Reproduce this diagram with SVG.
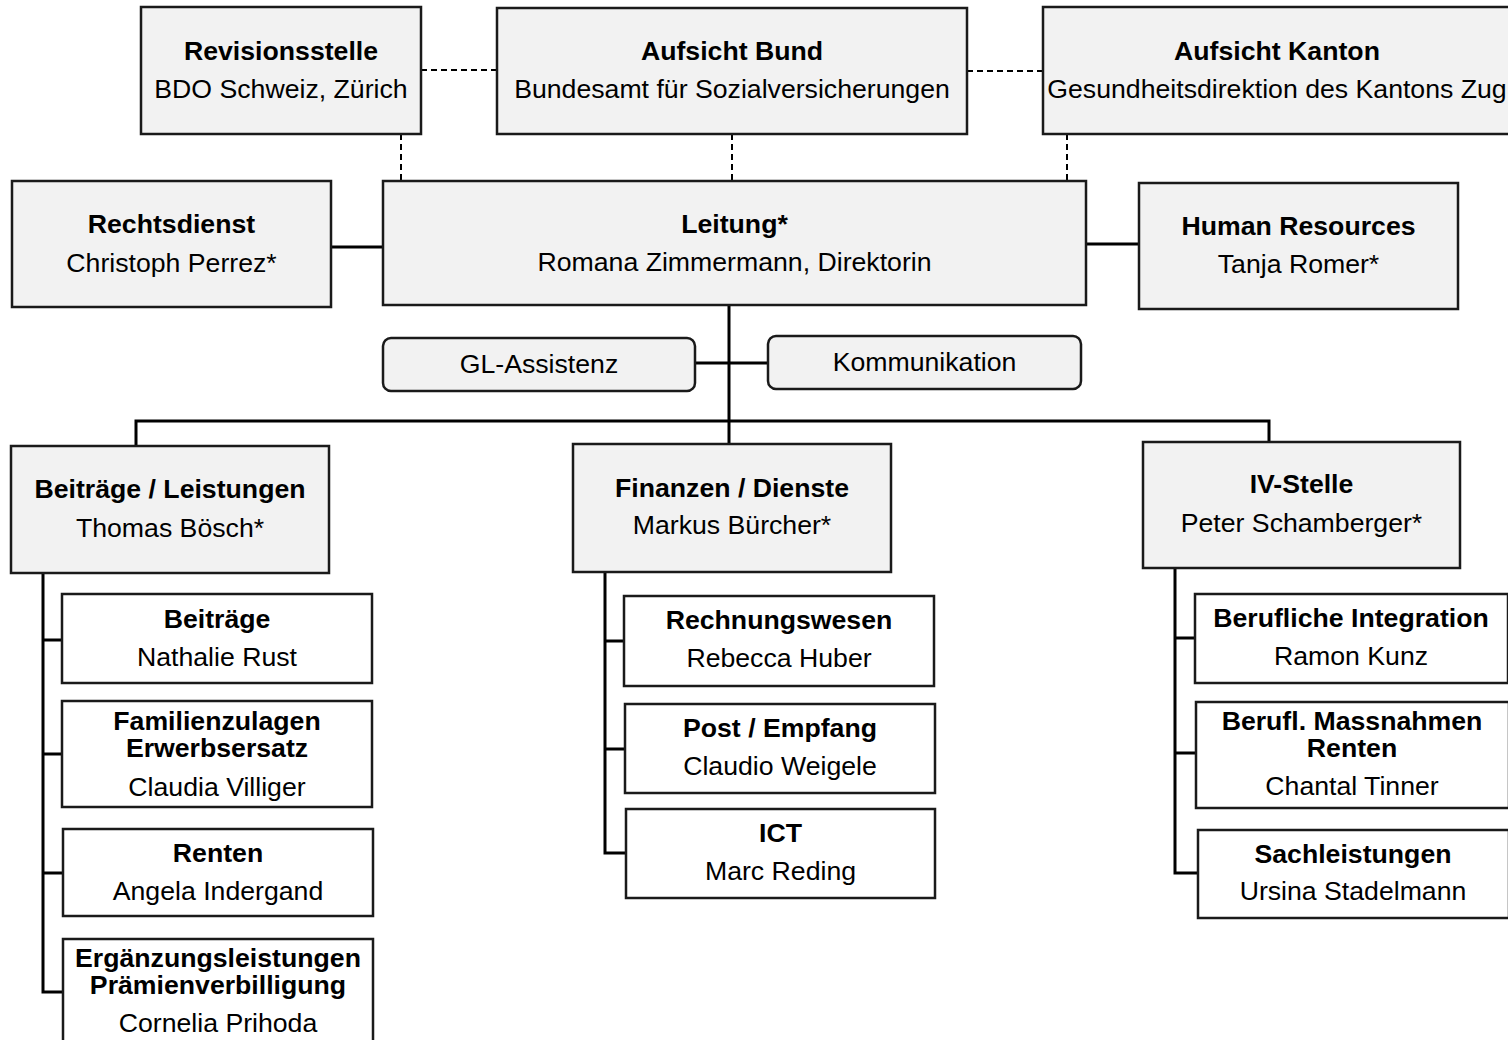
<svg xmlns="http://www.w3.org/2000/svg" width="1508" height="1040" viewBox="0 0 1508 1040">
<style>
.box{fill:#f2f2f2;stroke:#1a1a1a;stroke-width:2.5}
.sub{fill:#ffffff;stroke:#1a1a1a;stroke-width:2.5}
.t{font-family:"Liberation Sans",Arial,sans-serif;font-size:26.67px;text-anchor:middle;fill:#000}
.b{font-weight:bold}
.ln{stroke:#000;stroke-width:3;fill:none}
.dash{stroke:#000;stroke-width:2;stroke-dasharray:6 4;fill:none}
</style>
<rect width="1508" height="1040" fill="#fff"/>
<g id="connectors">
<path class="dash" d="M421,70 H497 M967,71 H1043 M401,134 V181 M732,134 V181 M1067,134 V181"/>
<path class="ln" d="M331,247 H383 M1086,244 H1139 M729,305 V446 M695,363 H768 M136,446 V421 H1269 V442"/>
<path class="ln" d="M43,573 V992 H63 M43,640 H62 M43,754 H62 M43,873 H63"/>
<path class="ln" d="M605,572 V853 H626 M605,641 H624 M605,749 H625"/>
<path class="ln" d="M1175,568 V873 H1198 M1175,638 H1195 M1175,753 H1196"/>
</g>
<g id="revisionsstelle"><rect class="box" x="141" y="7" width="280" height="127"/><text class="t b" x="281" y="60">Revisionsstelle</text><text class="t" x="281" y="98">BDO Schweiz, Zürich</text></g>
<g id="aufsicht-bund"><rect class="box" x="497" y="8" width="470" height="126"/><text class="t b" x="732" y="60">Aufsicht Bund</text><text class="t" x="732" y="98">Bundesamt für Sozialversicherungen</text></g>
<g id="aufsicht-kanton"><rect class="box" x="1043" y="7" width="468" height="127"/><text class="t b" x="1277" y="60">Aufsicht Kanton</text><text class="t" x="1277" y="98">Gesundheitsdirektion des Kantons Zug</text></g>
<g id="rechtsdienst"><rect class="box" x="12" y="181" width="319" height="126"/><text class="t b" x="171.5" y="233">Rechtsdienst</text><text class="t" x="171.5" y="272">Christoph Perrez*</text></g>
<g id="leitung"><rect class="box" x="383" y="181" width="703" height="124"/><text class="t b" x="734.5" y="233">Leitung*</text><text class="t" x="734.5" y="271">Romana Zimmermann, Direktorin</text></g>
<g id="human-resources"><rect class="box" x="1139" y="183" width="319" height="126"/><text class="t b" x="1298.5" y="235">Human Resources</text><text class="t" x="1298.5" y="273">Tanja Romer*</text></g>
<g id="gl-assistenz"><rect class="box" x="383" y="338" width="312" height="53" rx="8"/><text class="t" x="539" y="373">GL-Assistenz</text></g>
<g id="kommunikation"><rect class="box" x="768" y="336" width="313" height="53" rx="8"/><text class="t" x="924.5" y="371">Kommunikation</text></g>
<g id="beitraege-leistungen"><rect class="box" x="11" y="446" width="318" height="127"/><text class="t b" x="170" y="498">Beiträge / Leistungen</text><text class="t" x="170" y="537">Thomas Bösch*</text></g>
<g id="finanzen-dienste"><rect class="box" x="573" y="444" width="318" height="128"/><text class="t b" x="732" y="497">Finanzen / Dienste</text><text class="t" x="732" y="534">Markus Bürcher*</text></g>
<g id="iv-stelle"><rect class="box" x="1143" y="442" width="317" height="126"/><text class="t b" x="1301.5" y="493">IV-Stelle</text><text class="t" x="1301.5" y="532">Peter Schamberger*</text></g>
<g id="beitraege"><rect class="sub" x="62" y="594" width="310" height="89"/><text class="t b" x="217" y="628">Beiträge</text><text class="t" x="217" y="666">Nathalie Rust</text></g>
<g id="familienzulagen"><rect class="sub" x="62" y="701" width="310" height="106"/><text class="t b" x="217" y="730">Familienzulagen</text><text class="t b" x="217" y="757">Erwerbsersatz</text><text class="t" x="217" y="796">Claudia Villiger</text></g>
<g id="renten"><rect class="sub" x="63" y="829" width="310" height="87"/><text class="t b" x="218" y="862">Renten</text><text class="t" x="218" y="900">Angela Indergand</text></g>
<g id="ergaenzungsleistungen"><rect class="sub" x="63" y="939" width="310" height="112"/><text class="t b" x="218" y="967">Ergänzungsleistungen</text><text class="t b" x="218" y="994">Prämienverbilligung</text><text class="t" x="218" y="1032">Cornelia Prihoda</text></g>
<g id="rechnungswesen"><rect class="sub" x="624" y="596" width="310" height="90"/><text class="t b" x="779" y="629">Rechnungswesen</text><text class="t" x="779" y="667">Rebecca Huber</text></g>
<g id="post-empfang"><rect class="sub" x="625" y="704" width="310" height="89"/><text class="t b" x="780" y="737">Post / Empfang</text><text class="t" x="780" y="775">Claudio Weigele</text></g>
<g id="ict"><rect class="sub" x="626" y="809" width="309" height="89"/><text class="t b" x="780.5" y="842">ICT</text><text class="t" x="780.5" y="880">Marc Reding</text></g>
<g id="berufliche-integration"><rect class="sub" x="1195" y="594" width="313" height="89"/><text class="t b" x="1351" y="627">Berufliche Integration</text><text class="t" x="1351" y="665">Ramon Kunz</text></g>
<g id="berufl-massnahmen"><rect class="sub" x="1196" y="702" width="313" height="106"/><text class="t b" x="1352" y="730">Berufl. Massnahmen</text><text class="t b" x="1352" y="757">Renten</text><text class="t" x="1352" y="795">Chantal Tinner</text></g>
<g id="sachleistungen"><rect class="sub" x="1198" y="830" width="311" height="88"/><text class="t b" x="1353" y="863">Sachleistungen</text><text class="t" x="1353" y="900">Ursina Stadelmann</text></g>
</svg>
